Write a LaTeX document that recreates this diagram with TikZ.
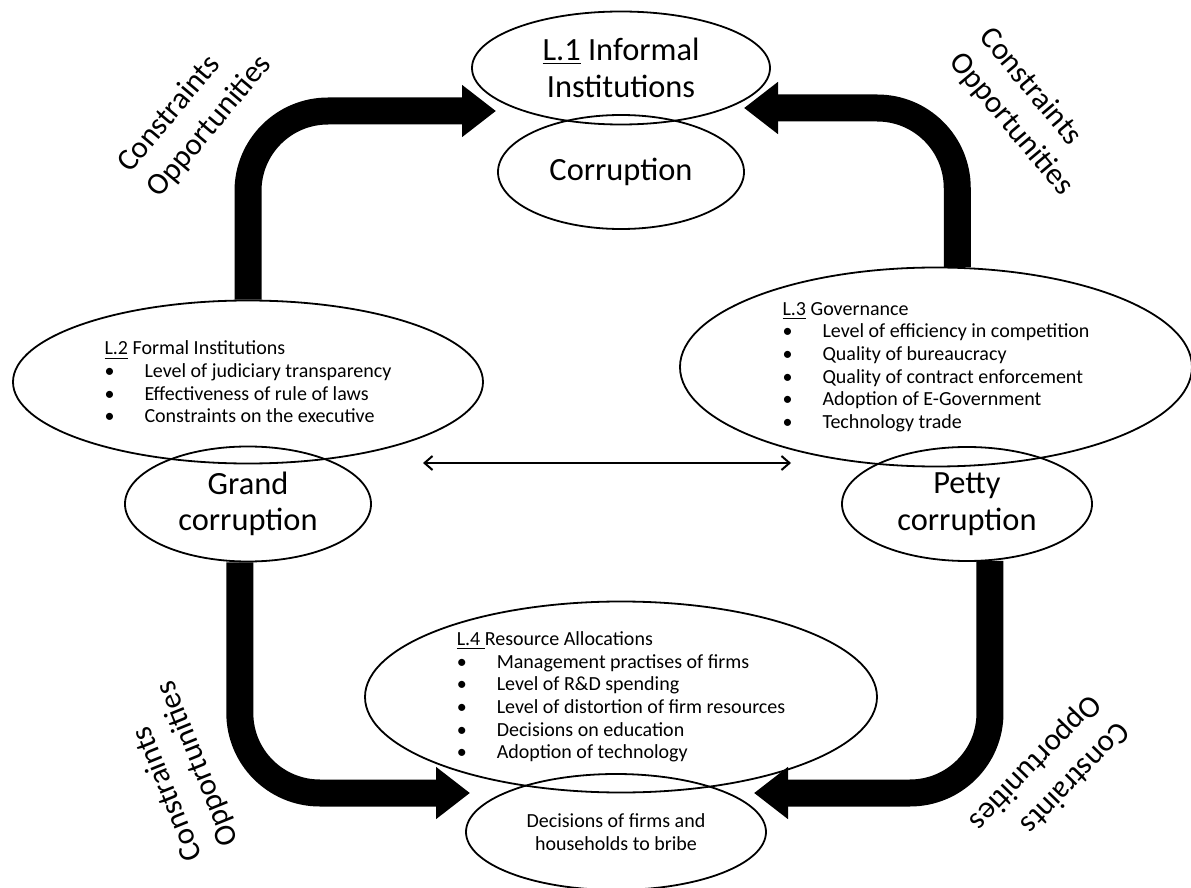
\documentclass[tikz,border=0pt]{standalone}
\usepackage{fontspec}
\setmainfont{Carlito}
\usetikzlibrary{arrows.meta}
\usetikzlibrary{shapes.geometric}
\newcommand{\itm}[1]{\makebox[20pt][l]{\textbullet}#1}
\begin{document}
\begin{tikzpicture}[x=0.5pt,y=-0.5pt,>={Straight Barb[length=4pt,width=7pt]},
            oval/.style={draw,ellipse,inner sep=0pt,line width=0.9pt},
            bigtext/.style={font=\fontsize{16.2}{18.3}\selectfont,align=center},
            listtext/.style={font=\fontsize{10}{11.3}\selectfont,align=left},
            smalltext/.style={font=\fontsize{10}{11.5}\selectfont,align=center},
            sidetext/.style={font=\fontsize{15.5}{19.5}\selectfont,align=left,inner sep=0pt},
            bigarrow/.style={line width=13.5pt,rounded corners=40pt,-{Triangle[width=25pt,length=17pt]}}]
            \useasboundingbox (0,0) rectangle (1191,888);
            \node[oval,bigtext,minimum width=149pt,minimum height=56.5pt] (l1) at (621,68) {\underline{L.1} Informal\\Institutions};
            \node[oval,bigtext,minimum width=123pt,minimum height=57pt] (corr) at (621,172) {Corruption};
            \node[oval,listtext,minimum width=235pt,minimum height=81.5pt] (l2) at (248,382)
                {\underline{L.2} Formal Institutions\\\itm{Level of judiciary transparency}\\
                 \itm{Effectiveness of rule of laws}\\\itm{Constraints on the executive}};
            \node[oval,bigtext,minimum width=123pt,minimum height=57.5pt] (grand) at (248,504) {Grand\\corruption};
            \node[oval,listtext,minimum width=256pt,minimum height=99.5pt] (l3) at (936,367)
                {\underline{L.3} Governance\\\itm{Level of efficiency in competition}\\\itm{Quality of bureaucracy}\\
                 \itm{Quality of contract enforcement}\\\itm{Adoption of E-Government}\\\itm{Technology trade}};
            \node[oval,bigtext,minimum width=125pt,minimum height=57pt] (petty) at (967,504) {Petty\\corruption};
            \node[oval,listtext,minimum width=256pt,minimum height=95.5pt] (l4) at (621,697)
                {\underline{L.4\ }Resource Allocations\\\itm{Management practises of firms}\\\itm{Level of R\&D spending}\\
                 \itm{Level of distortion of firm resources}\\\itm{Decisions on education}\\\itm{Adoption of technology}};
            \node[oval,smalltext,minimum width=150pt,minimum height=58pt] (dec) at (616,832) {Decisions of firms and\\households to bribe};
            \coordinate (tlTip) at (496,111);
            \coordinate (trTip) at (744,108);
            \coordinate (blTip) at (470,793);
            \coordinate (brTip) at (754,793);
            \coordinate (linkL) at (423,463);
            \coordinate (linkR) at (791,463);
            \draw[bigarrow] (l2.north) |- (tlTip);
            \draw[bigarrow] (l3.78) |- (trTip);
            \draw[bigarrow] (grand.262) |- (blTip);
            \draw[bigarrow] (petty.292) |- (brTip);
            \draw[<->,line width=1pt] (linkL) -- (linkR);
            \node[sidetext,rotate=50] (optl) at (195,114) {Constraints\\Opportunities};
            \node[sidetext,rotate=-50] (optr) at (1026,112) {Constraints\\Opportunities};
            \node[sidetext,rotate=112] (opbl) at (180,771) {Constraints\\Opportunities};
            \node[sidetext,rotate=226] (opbr) at (1049,776) {Constraints\\Opportunities};
        \end{tikzpicture}
\end{document}
